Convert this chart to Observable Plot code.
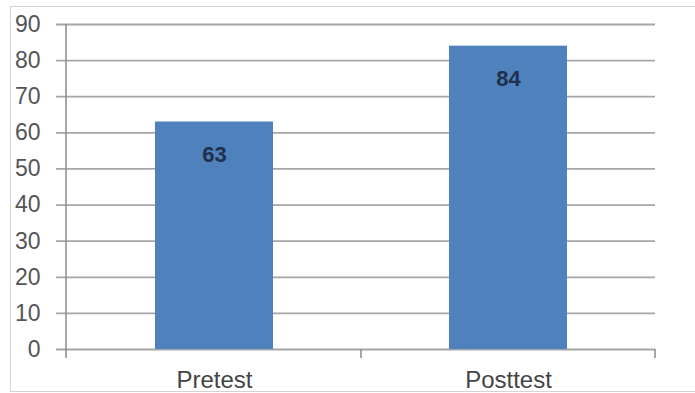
<!DOCTYPE html>
<html>
<head>
<meta charset="utf-8">
<script src="https://cdn.jsdelivr.net/npm/d3@7"></script>
<script src="https://cdn.jsdelivr.net/npm/@observablehq/plot@0.6"></script>
<style>
  html, body { margin: 0; padding: 0; background: #fff; }
  #wrap { position: relative; width: 695px; height: 393px; overflow: hidden; }
  #border { position: absolute; left: 10px; top: 6px; right: -2px; bottom: 1px;
            border: 1px solid #d4d4d4; border-right: none; pointer-events: none; }
</style>
</head>
<body>
<div id="wrap"><div id="border"></div></div>
<script>
const categories = ["Pretest", "Posttest"];
const values = [63, 84];
const yTicks = [0, 10, 20, 30, 40, 50, 60, 70, 80, 90];

const data = categories.map((c, i) => ({category: c, value: values[i]}));

const boundaryTicks = (index, scales, values, dimensions) => {
  const g = d3.create("svg:g");
  const x = scales.x, y = scales.y;
  const step = x.step ? x.step() : x.bandwidth() / 0.4;
  const y0 = y(0);
  // vertical axis line
  g.append("line")
    .attr("x1", dimensions.marginLeft).attr("x2", dimensions.marginLeft)
    .attr("y1", y(90)).attr("y2", y0 + 9)
    .attr("stroke", "#8a8a8a").attr("stroke-width", 1.5);
  const xs = [];
  categories.forEach((c) => {
    xs.push(x(c) + x.bandwidth() / 2 - step / 2);
  });
  xs.push(x(categories[categories.length - 1]) + x.bandwidth() / 2 + step / 2);
  xs.slice(1).forEach((xx) => {
    g.append("line")
      .attr("x1", xx).attr("x2", xx)
      .attr("y1", y0).attr("y2", y0 + 9)
      .attr("stroke", "#8a8a8a").attr("stroke-width", 1.5);
  });
  return g.node();
};

const chart = Plot.plot({
  width: 695,
  height: 393,
  marginLeft: 66,
  marginRight: 40,
  marginTop: 24,
  marginBottom: 44,
  style: {fontFamily: "'Liberation Sans', Arial, sans-serif", background: "transparent"},
  x: {domain: categories, paddingInner: 0.6, paddingOuter: 0.3, label: null},
  y: {domain: [0, 90], ticks: yTicks, label: null},
  marks: [
    Plot.ruleY(yTicks, {stroke: "#a6a6a6", strokeWidth: 1.8, insetLeft: -10}),
    Plot.barY(data, {x: "category", y: "value", fill: "#4F81BD"}),
    Plot.text(data, {x: "category", y: "value", text: d => String(d.value), dy: 33,
      fill: "#1f2f4c", fontSize: 22, fontWeight: "bold"}),
    Plot.axisY({ticks: yTicks, tickSize: 0, tickPadding: 26, fontSize: 23, color: "#555"}),
    Plot.axisX({tickSize: 0, tickPadding: 21, fontSize: 24, color: "#444"}),
    boundaryTicks
  ]
});
document.getElementById("wrap").prepend(chart);
</script>
</body>
</html>
